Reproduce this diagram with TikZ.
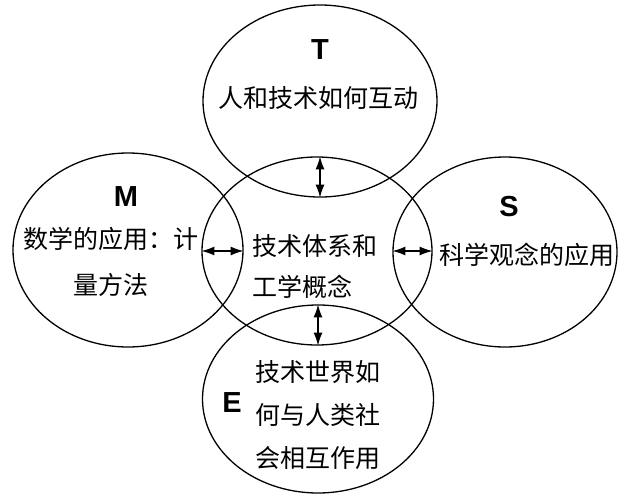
\documentclass[tikz,border=0pt]{standalone}
\usepackage{fontspec}
\newfontfamily\cjk{Noto Sans CJK SC}
\newfontfamily\latinbold{Liberation Sans}
\usetikzlibrary{shapes.geometric,arrows.meta,calc}
\begin{document}
\begin{tikzpicture}[x=1pt,y=-1pt,
  ell/.style={draw, ellipse, line width=1.3pt, inner sep=0pt},
  letter/.style={font=\latinbold\bfseries\fontsize{29}{30}\selectfont},
  cjktext/.style={font=\cjk\fontsize{25}{46}\selectfont, inner sep=0pt},
  dar/.style={line width=1.5pt, {Latex[length=13pt,width=9pt]}-{Latex[length=13pt,width=9pt]}}
]
\useasboundingbox (0,0) rectangle (618,495);
% ellipses
\node[ell, minimum width=234pt, minimum height=192pt] (T) at (320,101) {};
\node[ell, minimum width=230pt, minimum height=188pt] (C) at (317,251) {};
\node[ell, minimum width=230pt, minimum height=194pt] (M) at (128,250) {};
\node[ell, minimum width=224pt, minimum height=190pt] (S) at (505,252) {};
\node[ell, minimum width=231pt, minimum height=188pt] (E) at (318,399) {};
% letters
\node[letter] (Tl) at (320,50) {T};
\node[letter] (Ml) at (126,197) {M};
\node[letter] (Sl) at (509,207) {S};
\node[letter] (El) at (232,403) {E};
% texts
\node[cjktext] (Tt) at (318,98) {人和技术如何互动};
\node[cjktext, align=center] (Mt) at (111,262) {数学的应用：计\\量方法};
\node[cjktext] (St) at (527,255) {科学观念的应用};
\node[cjktext, align=left, anchor=west, font=\cjk\fontsize{25}{41}\selectfont] (Ct) at (252,267) {技术体系和\\工学概念};
\node[cjktext, align=center, font=\cjk\fontsize{25}{43}\selectfont] (Et) at (318,415) {技术世界如\\何与人类社\\会相互作用};
% arrows
\draw[dar] (T.south) -- (T.south |- C.north);
\draw[dar] (E.north) -- (E.north |- C.south);
\draw[dar] (C.west) -- (C.west -| M.east);
\draw[dar] (C.east) -- (C.east -| S.west);
\end{tikzpicture}
\end{document}
